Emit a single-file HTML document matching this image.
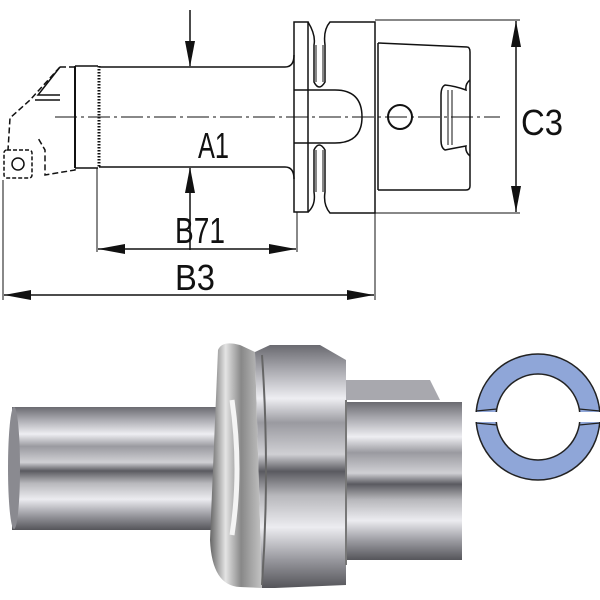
<!DOCTYPE html>
<html><head><style>
html,body{margin:0;padding:0;background:#fff;width:600px;height:600px;overflow:hidden}
text{font-family:"Liberation Sans",sans-serif;fill:#111}
</style></head><body>
<svg width="600" height="600" viewBox="0 0 600 600" xmlns="http://www.w3.org/2000/svg">
<defs>
<linearGradient id="m" x1="0" y1="0" x2="0" y2="1">
<stop offset="0" stop-color="#6a6a70"/><stop offset="0.1" stop-color="#a8a8ae"/><stop offset="0.22" stop-color="#eeeef2"/><stop offset="0.32" stop-color="#9a9aa0"/><stop offset="0.45" stop-color="#d0d0d4"/><stop offset="0.52" stop-color="#5a5a60"/><stop offset="0.62" stop-color="#b8b8bc"/><stop offset="0.75" stop-color="#ececf0"/><stop offset="0.88" stop-color="#9a9aa0"/><stop offset="1" stop-color="#55555a"/>
</linearGradient>
<linearGradient id="f" x1="0" y1="0" x2="1" y2="0">
<stop offset="0" stop-color="#666"/><stop offset="0.3" stop-color="#e4e4e4"/><stop offset="0.6" stop-color="#888"/><stop offset="1" stop-color="#c4c4c4"/>
</linearGradient>
</defs>
<g stroke="#111" stroke-width="1.5" fill="none">
<line x1="55" y1="117" x2="500" y2="117" stroke-dasharray="22,4,3,4" stroke-width="1"/>
<path d="M60,67 L75,67 L75,170 L45,175 L45,150 L38,138 M60,67 L30,100 L10,118 L8,150" stroke-dasharray="6,3"/>
<path d="M60,67 L38,95 L60,95 M35,100 L60,100"/>
<rect x="4" y="150" width="28" height="28" rx="3" stroke-dasharray="4,2"/>
<circle cx="18" cy="164" r="6"/>
<line x1="75" y1="66" x2="75" y2="168" stroke-width="2"/>
<line x1="75" y1="66" x2="98" y2="66"/><line x1="75" y1="168" x2="98" y2="168"/>
<line x1="99" y1="66" x2="99" y2="168" stroke-width="3" stroke-dasharray="1.5,1.5"/>
<path d="M99,67 L285,67 Q294,67 294,55 M99,167 L285,167 Q294,167 294,179"/>
<path d="M294,22 L308,22 L308,212 L294,212 Z"/>
<path d="M308,22 Q316,35 314,45 L314,82 Q319,92 325,82 L325,45 Q323,30 330,22 L375,22 L375,213 L330,213 Q323,205 325,192 L325,150 Q319,140 314,150 L314,192 Q316,205 308,212"/>
<path d="M316,45 L316,82 M323,45 L323,82 M316,150 L316,192 M323,150 L323,192" stroke-width="1"/>
<path d="M294,90 L335,90 Q362,90 362,117 Q362,143 335,143 L294,143"/>
<line x1="378" y1="43" x2="378" y2="190"/>
<path d="M378,43 L467,47 Q470,47 470,52 L470,186 Q470,190 466,190 L378,190"/>
<circle cx="400" cy="117" r="12" stroke-width="2"/>
<path d="M470,80 Q465,84 466,90 Q455,86 445,85 Q441,87 441,95 L441,140 Q441,148 445,150 Q455,148 466,146 Q465,152 470,156"/>
<path d="M448,90 L448,145 M452,90 L452,145" stroke-width="1"/>
<line x1="190" y1="10" x2="190" y2="66"/>
<line x1="190" y1="250" x2="190" y2="168"/>
<line x1="97" y1="168" x2="97" y2="252" stroke-width="1"/>
<line x1="297" y1="212" x2="297" y2="252" stroke-width="1"/>
<line x1="98" y1="249" x2="296" y2="249"/>
<line x1="3" y1="180" x2="3" y2="300" stroke-width="1"/>
<line x1="375" y1="213" x2="375" y2="300" stroke-width="1"/>
<line x1="4" y1="295" x2="374" y2="295"/>
<line x1="375" y1="20" x2="520" y2="20" stroke-width="1"/>
<line x1="375" y1="213" x2="520" y2="213" stroke-width="1"/>
<line x1="516" y1="21" x2="516" y2="212"/>
</g>
<g fill="#111">
<polygon points="190,67 185,41 195,41"/>
<polygon points="190,167 185,193 195,193"/>
<polygon points="98,249 125,244 125,254"/>
<polygon points="296,249 269,244 269,254"/>
<polygon points="4,295 31,290 31,300"/>
<polygon points="374,295 347,290 347,300"/>
<polygon points="516,21 511,47 521,47"/>
<polygon points="516,212 511,186 521,186"/>
</g>
<text x="198" y="158" font-size="36" textLength="31" lengthAdjust="spacingAndGlyphs">A1</text>
<text x="175" y="243" font-size="36" textLength="50" lengthAdjust="spacingAndGlyphs">B71</text>
<text x="175" y="290" font-size="36" textLength="40" lengthAdjust="spacingAndGlyphs">B3</text>
<text x="521" y="135" font-size="36" textLength="42" lengthAdjust="spacingAndGlyphs">C3</text>
<rect x="12" y="407" width="212" height="123" fill="url(#m)"/>
<ellipse cx="14" cy="468" rx="6" ry="61" fill="#8a8a90"/>
<path d="M218,350 Q222,340 240,345 L255,352 L262,588 L240,587 Q212,586 210,540 Z" fill="url(#f)"/>
<path d="M255,352 L270,345 L320,345 L346,360 L346,585 L275,588 L262,588 Z" fill="url(#m)"/>
<path d="M346,380 L430,380 L440,400 L346,400 Z" fill="#a8a8ae"/>
<rect x="346" y="402" width="116" height="158" fill="url(#m)"/>
<line x1="346" y1="400" x2="346" y2="565" stroke="#777" stroke-width="2"/>
<path d="M262,355 Q270,470 262,585" stroke="#666" stroke-width="2" fill="none"/>
<path d="M232,400 Q242,470 232,535" stroke="#f4f4f4" stroke-width="5" fill="none"/>
<path fill-rule="evenodd" fill="#8fa6d8" stroke="#222" stroke-width="1.5" d="M476,417 a62,63 0 1,0 124,0 a62,63 0 1,0 -124,0 Z M496,417 a42,43 0 1,0 84,0 a42,43 0 1,0 -84,0 Z"/>
<rect x="475" y="412" width="22" height="10" fill="#fff"/>
<rect x="579" y="412" width="22" height="10" fill="#fff"/>
<path d="M476,411 L497,409 M476,423 L497,425 M579,409 L600,411 M579,425 L600,423" stroke="#222" stroke-width="1.2"/>
</svg>
</body></html>
